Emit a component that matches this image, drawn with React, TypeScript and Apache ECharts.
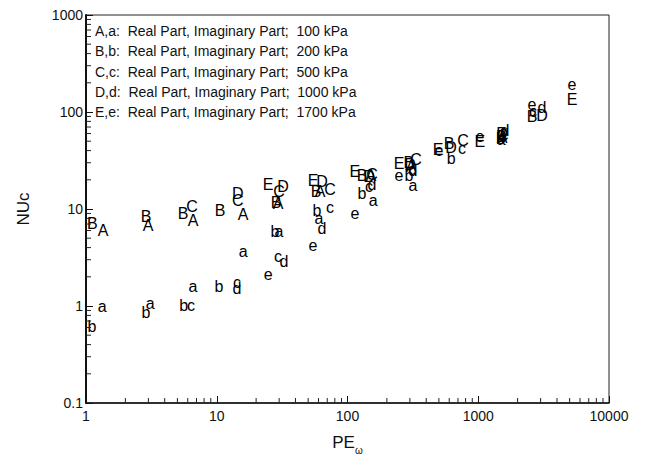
import React, { useEffect, useRef } from "react";
import * as echarts from "echarts";

// Real parts (upper-case markers) and imaginary parts (lower-case markers): [PE, NUc]
const A_real = [[1.35, 6.0], [2.98, 6.7], [6.58, 7.6], [15.9, 8.7], [29.4, 11.3], [61.6, 15.0], [151, 21.9], [307, 27.7], [1520, 55]];
const B_real = [[1.12, 7.1], [2.88, 8.3], [5.52, 8.9], [10.6, 9.6], [28.4, 11.6], [57.4, 15.0], [129, 21.9], [295, 30.4], [597, 47.6], [1500, 56.2], [2577, 89.9]];
const C_real = [[6.47, 10.5], [14.5, 12.1], [29.9, 15.0], [73.5, 15.7], [154, 22.9], [334, 32.7], [764, 51.1], [1540, 57.5]];
const D_real = [[14.5, 14.3], [32.1, 16.9], [63.8, 19.0], [146, 21.4], [301, 29.0], [620, 43.3], [1520, 60.0], [3075, 92.0]];
const E_real = [[24.7, 18.1], [54.5, 19.9], [114, 24.6], [248, 29.7], [492, 41.3], [1030, 49.9], [5210, 134]];

const a_imag = [[1.33, 1.0], [3.1, 1.07], [6.58, 1.6], [15.9, 3.65], [29.9, 5.85], [60.5, 7.9], [157, 12.1], [317, 17.3], [1500, 52.5]];
const b_imag = [[1.11, 0.62], [2.88, 0.85], [5.6, 1.02], [10.4, 1.6], [27.9, 5.85], [58.5, 9.6], [129, 14.3], [295, 22.4], [620, 33.4], [1480, 53.7]];
const c_imag = [[6.35, 1.02], [14.3, 1.76], [29.4, 3.25], [73.5, 10.3], [146, 16.9], [311, 25.8], [750, 42.4], [1540, 56], [2625, 101]];
const d_imag = [[14.3, 1.53], [32.7, 2.89], [63.8, 6.3], [154, 17.7], [317, 25.2], [1603, 64.7], [3075, 111]];
const e_imag = [[24.7, 2.13], [54.5, 4.2], [114, 8.9], [248, 22.4], [500, 40], [1030, 56], [2577, 119], [5210, 191]];

const markerGroups: [string, number[][]][] = [
  ["A", A_real], ["B", B_real], ["C", C_real], ["D", D_real], ["E", E_real],
  ["a", a_imag], ["b", b_imag], ["c", c_imag], ["d", d_imag], ["e", e_imag],
];

const legendLines = [
  "A,a:  Real Part, Imaginary Part;  100 kPa",
  "B,b:  Real Part, Imaginary Part;  200 kPa",
  "C,c:  Real Part, Imaginary Part;  500 kPa",
  "D,d:  Real Part, Imaginary Part;  1000 kPa",
  "E,e:  Real Part, Imaginary Part;  1700 kPa",
];

const xMin = 1, xMax = 10000;
const yMin = 0.1, yMax = 1000;

function minorTicks(lo: number, hi: number): number[] {
  const out: number[] = [];
  for (let d = lo; d < hi; d *= 10) {
    for (let k = 2; k <= 9; k++) out.push(Math.round(d * k * 1000) / 1000);
  }
  return out;
}
const xMinor = minorTicks(xMin, xMax);
const yMinor = minorTicks(yMin, yMax);

const FONT = '"Liberation Sans", Arial, Helvetica, sans-serif';

export default function App() {
  const ref = useRef<HTMLDivElement>(null);
  useEffect(() => {
    if (!ref.current) return;
    const chart = echarts.init(ref.current, null, { renderer: "svg" });
    const letterSeries = markerGroups.map(([letter, data]) => ({
      type: "custom",
      name: letter,
      coordinateSystem: "cartesian2d",
      data,
      encode: { x: 0, y: 1 },
      clip: false,
      renderItem: (_p: any, api: any) => {
        const pt = api.coord([api.value(0), api.value(1)]);
        return {
          type: "text",
          x: pt[0],
          y: pt[1],
          style: {
            text: letter,
            fill: "#000",
            font: `16px ${FONT}`,
            align: "center",
            verticalAlign: "middle",
          },
        };
      },
    }));
    const xMinorSeries = {
      type: "custom",
      coordinateSystem: "cartesian2d",
      data: xMinor.map((v) => [v, yMin]),
      encode: { x: 0, y: 1 },
      silent: true,
      renderItem: (_p: any, api: any) => {
        const pt = api.coord([api.value(0), yMin]);
        return {
          type: "line",
          shape: { x1: pt[0], y1: pt[1], x2: pt[0], y2: pt[1] - 5 },
          style: { stroke: "#222", lineWidth: 1 },
        };
      },
    };
    const yMinorSeries = {
      type: "custom",
      coordinateSystem: "cartesian2d",
      data: yMinor.map((v) => [xMin, v]),
      encode: { x: 0, y: 1 },
      silent: true,
      renderItem: (_p: any, api: any) => {
        const pt = api.coord([xMin, api.value(1)]);
        return {
          type: "line",
          shape: { x1: pt[0], y1: pt[1], x2: pt[0] + 5, y2: pt[1] },
          style: { stroke: "#222", lineWidth: 1 },
        };
      },
    };
    chart.setOption({
      animation: false,
      backgroundColor: "#fff",
      textStyle: { fontFamily: FONT },
      grid: {
        left: 86, right: 39, top: 15, bottom: 54,
        show: true, borderColor: "#222", borderWidth: 1, backgroundColor: "transparent",
      },
      xAxis: {
        type: "log", logBase: 10, min: xMin, max: xMax,
        name: "{a|PE}{b|ω}",
        nameLocation: "middle",
        nameGap: 26,
        nameTextStyle: {
          rich: {
            a: { fontSize: 17, color: "#111", fontFamily: FONT },
            b: { fontSize: 10, color: "#111", fontFamily: FONT, padding: [16, 0, 0, 0] },
          },
        },
        axisLine: { lineStyle: { color: "#111", width: 1.5 } },
        axisTick: { inside: true, length: 7, lineStyle: { color: "#111" } },
        axisLabel: { color: "#111", fontSize: 14, margin: 6, formatter: (v: number) => String(v) },
        splitLine: { show: false },
      },
      yAxis: {
        type: "log", logBase: 10, min: yMin, max: yMax,
        name: "NUc",
        nameLocation: "middle",
        nameGap: 54,
        nameRotate: 90,
        nameTextStyle: { fontSize: 17, color: "#111", fontFamily: FONT },
        axisLine: { lineStyle: { color: "#111", width: 2 } },
        axisTick: { inside: true, length: 7, lineStyle: { color: "#111" } },
        axisLabel: { color: "#111", fontSize: 14, margin: 3, formatter: (v: number) => String(v) },
        splitLine: { show: false },
      },
      graphic: legendLines.map((t, i) => ({
        type: "text",
        left: 95,
        top: 24 + i * 20.3,
        style: { text: t, fill: "#111", font: `14px ${FONT}` },
      })),
      series: [...letterSeries, xMinorSeries, yMinorSeries],
    });
    return () => chart.dispose();
  }, []);
  return <div ref={ref} style={{ width: 648, height: 460, position: "absolute", left: 0, top: 0 }} />;
}
